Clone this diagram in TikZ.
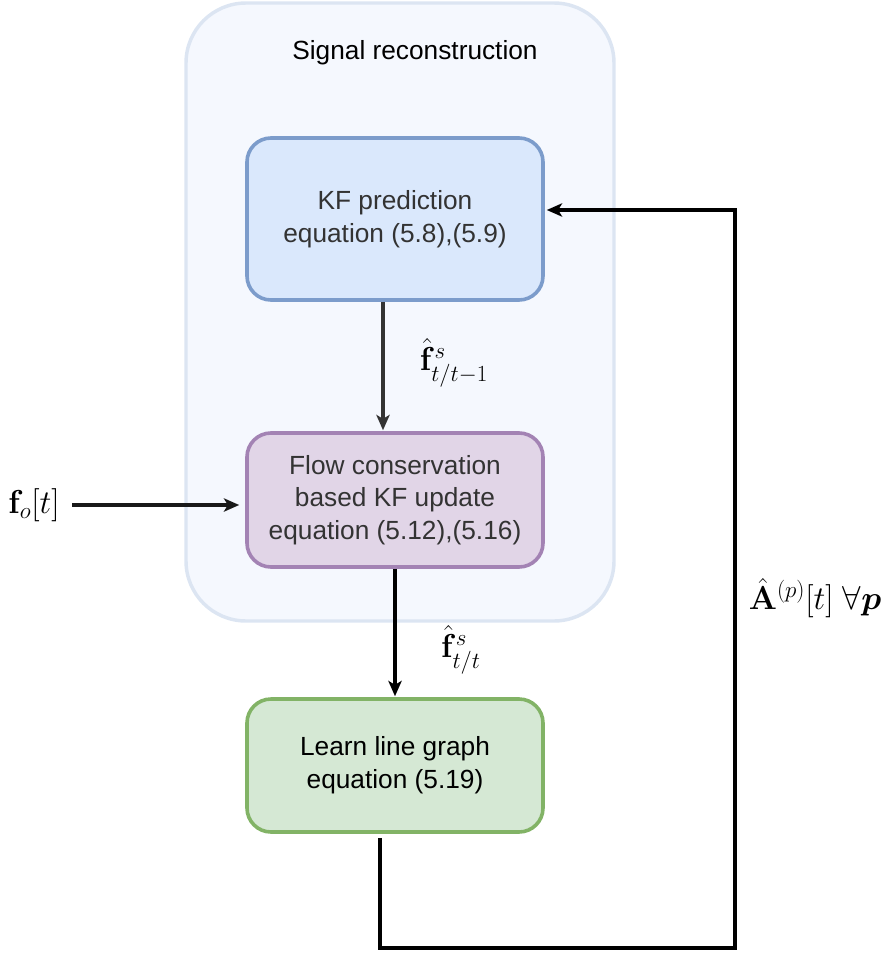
\documentclass[tikz,border=0pt]{standalone}
\usepackage[no-math]{fontspec}
\setmainfont{Liberation Sans}
\usepackage{amsmath,bm}
\usetikzlibrary{arrows.meta,calc}
\definecolor{contfill}{HTML}{F5F8FE}
\definecolor{contdraw}{HTML}{DCE5F2}
\definecolor{bluefill}{HTML}{DAE8FC}
\definecolor{bluedraw}{HTML}{7C9CCB}
\definecolor{purpfill}{HTML}{E1D5E7}
\definecolor{purpdraw}{HTML}{A383B4}
\definecolor{greenfill}{HTML}{D5E8D4}
\definecolor{greendraw}{HTML}{82B366}
\definecolor{txtgray}{HTML}{333333}
\begin{document}
\begin{tikzpicture}[x=0.75pt,y=-0.75pt,
  boxstyle/.style={rounded corners=18pt, line width=2.7pt, minimum width=296*0.75pt,
    align=center, font=\fontsize{19.7}{24.5}\selectfont, inner sep=0pt},
  conn/.style={line width=2.3pt, -{Stealth[length=11.5pt,width=10pt,inset=3pt]}},
  mathlbl/.style={font=\fontsize{24}{28}\selectfont, inner sep=0pt}
]
\useasboundingbox (0,0) rectangle (883,956);
% container
\node[draw=contdraw, fill=contfill, line width=2.6pt, rounded corners=45pt,
  minimum width=428*0.75pt, minimum height=618*0.75pt, inner sep=0pt] (cont) at (400,312) {};
\node[font=\fontsize{19.7}{24.5}\selectfont, anchor=base] (title) at (415,60) {Signal reconstruction};
% boxes
\node[boxstyle, draw=bluedraw, fill=bluefill, text=txtgray, minimum height=162*0.75pt] (kf) at (395,219)
  {KF prediction\\equation (5.8),(5.9)};
\node[boxstyle, draw=purpdraw, fill=purpfill, text=txtgray, minimum height=134*0.75pt] (flow) at (395,500)
  {Flow conservation\\based KF update\\equation (5.12),(5.16)};
\node[boxstyle, draw=greendraw, fill=greenfill, text=black, minimum height=133*0.75pt] (learn) at (395,765.5)
  {Learn line graph\\equation (5.19)};
% labels
\node[mathlbl] (fo) at (34,505) {$\mathbf{f}_o[t]$};
\node[mathlbl] (l1) at (454,363) {$\hat{\mathbf{f}}^{s}_{t/t-1}$};
\node[mathlbl] (l2) at (461,650) {$\hat{\mathbf{f}}^{s}_{t/t}$};
\node[mathlbl] (l3) at (815,598) {$\hat{\mathbf{A}}^{(p)}[t]\;\forall \bm{p}$};
% connectors
\draw[conn, draw=txtgray] ($(kf.south)+(-12,0)$) -- ($(flow.north)+(-12,-1)$);
\coordinate (instart) at (72,505);
\draw[conn, draw=black!90] (instart) -- ($(flow.west)+(-6,5)$);
\draw[conn, draw=black] (flow.south) -- ($(learn.north)+(0,-1)$);
\coordinate (fb1) at (380,838);
\coordinate (fb2) at (380,948);
\coordinate (fb3) at (735,948);
\coordinate (fb4) at (735,210);
\draw[conn, draw=black] (fb1) -- (fb2) -- (fb3) -- (fb4) -- ($(kf.east |- fb4)+(2,0)$);
\end{tikzpicture}
\end{document}
